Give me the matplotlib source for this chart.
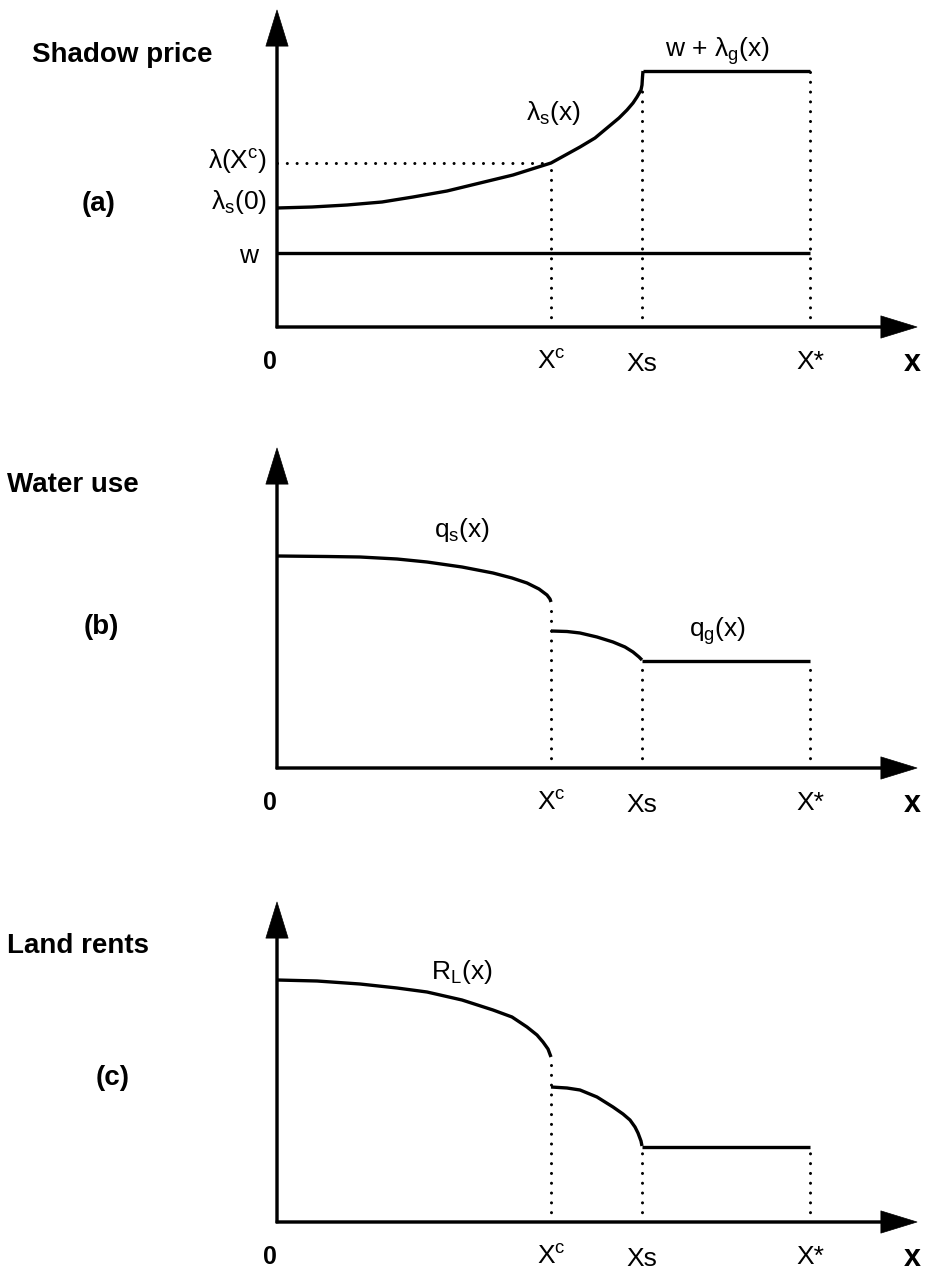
import matplotlib
matplotlib.use("Agg")
import matplotlib.pyplot as plt

plt.rcParams['font.family'] = ['Liberation Sans', 'DejaVu Sans']
plt.rcParams['mathtext.fontset'] = 'custom'
plt.rcParams['mathtext.rm'] = 'Liberation Sans'
plt.rcParams['mathtext.it'] = 'Liberation Sans'

# distances along x (schematic units)
Xc, Xs, Xstar = 2.74, 3.65, 5.33
x_end = 6.40

# (a) shadow price
w_level = 0.74
x_lam = [0.00, 0.35, 0.70, 1.05, 1.36, 1.70, 2.03, 2.36, 2.74, 3.03, 3.18, 3.30,
         3.42, 3.50, 3.56, 3.60, 3.64, 3.65, 3.655, 3.66]
lam_s = [1.19, 1.20, 1.22, 1.25, 1.30, 1.36, 1.44, 1.52, 1.64, 1.80, 1.89, 1.99,
         2.09, 2.17, 2.24, 2.30, 2.37, 2.42, 2.50, 2.56]
lam_c = 1.64
lam_xs = 2.37
lam_g_top = 2.56
top_a = 3.17

# (b) water use
x_qs1 = [0.00, 0.50, 0.83, 1.20, 1.50, 1.85, 2.16, 2.35, 2.50, 2.62, 2.70, 2.73, 2.74]
qs1 = [2.12, 2.115, 2.11, 2.09, 2.06, 2.01, 1.95, 1.90, 1.85, 1.79, 1.73, 1.69, 1.66]
x_qs2 = [2.74, 2.90, 3.03, 3.20, 3.36, 3.48, 3.56, 3.62, 3.65]
qs2 = [1.37, 1.365, 1.35, 1.31, 1.26, 1.21, 1.16, 1.11, 1.08]
qg_level = 1.07
top_b = 3.20

# (c) land rents
x_r1 = [0.00, 0.40, 0.83, 1.20, 1.50, 1.85, 2.16, 2.35, 2.50, 2.60, 2.66, 2.71, 2.74]
r1 = [2.42, 2.41, 2.38, 2.34, 2.30, 2.22, 2.12, 2.05, 1.95, 1.87, 1.80, 1.73, 1.65]
x_r2 = [2.74, 2.90, 3.03, 3.20, 3.36, 3.46, 3.53, 3.58, 3.61, 3.64, 3.65]
r2 = [1.35, 1.34, 1.32, 1.25, 1.15, 1.08, 1.02, 0.95, 0.89, 0.81, 0.76]
rg_level = 0.75
top_c = 3.20

W, H = 941, 1275
LW = 2.4
LINE = dict(color='k', lw=LW, solid_joinstyle='round', solid_capstyle='butt')
DOT = dict(color='k', lw=2.2, linestyle=(0, (0.01, 3.2)), dash_capstyle='round')
REG = 19
BOLD = 20

fig = plt.figure(figsize=(W / 100, H / 100), dpi=100)


def make_axes(bottom_px, top_px):
    ax = fig.add_axes([277 / W, 1 - bottom_px / H, (917 - 277) / W, (bottom_px - top_px) / H])
    ax.axis('off')
    return ax


def draw_axes(ax, ytop):
    ax.set_xlim(0, x_end)
    ax.set_ylim(0, ytop)
    arrow = dict(facecolor='k', edgecolor='k', width=1.8, headwidth=16,
                 headlength=26, shrink=0, lw=0.5)
    ax.annotate('', xy=(x_end, 0), xytext=(-0.01, 0), arrowprops=arrow, annotation_clip=False)
    ax.annotate('', xy=(0, ytop), xytext=(0, -0.01), arrowprops=arrow, annotation_clip=False)
    ax.text(-0.07, -0.35, '0', fontsize=18, fontweight='bold', ha='center', va='center')
    ax.text(Xc, -0.35, 'X$^{\\mathregular{c}}$', fontsize=REG, ha='center', va='center')
    ax.text(Xs, -0.37, 'Xs', fontsize=REG, ha='center', va='center')
    ax.text(Xstar, -0.35, 'X*', fontsize=REG, ha='center', va='center')
    ax.text(6.35, -0.36, 'x', fontsize=22, fontweight='bold', ha='center', va='center')


def ftext(px, py, s, **kw):
    fig.text(px / W, 1 - py / H, s, **kw)


# ---- panel (a)
ax = make_axes(327, 10)
draw_axes(ax, top_a)
ax.plot([0, Xstar], [w_level, w_level], **LINE)
ax.plot(x_lam, lam_s, **LINE)
ax.plot([x_lam[-1], Xstar], [lam_g_top, lam_g_top], **LINE)
ax.plot([0, Xc], [lam_c, lam_c], **DOT)
ax.plot([Xc, Xc], [0, lam_c], **DOT)
ax.plot([Xs, Xs], [0, lam_xs], **DOT)
ax.plot([Xstar, Xstar], [0, lam_g_top], **DOT)
ax.text(2.76, 2.14, 'λ$_{\\mathregular{s}}$(x)', fontsize=REG, ha='center', va='center')
ax.text(4.40, 2.76, 'w + λ$_{\\mathregular{g}}$(x)', fontsize=REG, ha='center', va='center')
ax.text(-0.10, 1.65, 'λ(X$^{\\mathregular{c}}$)', fontsize=REG, ha='right', va='center')
ax.text(-0.10, 1.25, 'λ$_{\\mathregular{s}}$(0)', fontsize=REG, ha='right', va='center')
ax.text(-0.19, 0.71, 'w', fontsize=REG, ha='right', va='center')
ftext(32, 55, 'Shadow price', fontsize=BOLD, fontweight='bold', ha='left', va='center')
ftext(99, 204, '(a)', fontsize=BOLD, fontweight='bold', ha='center', va='center')

# ---- panel (b)
ax = make_axes(768, 448)
draw_axes(ax, top_b)
ax.plot(x_qs1, qs1, **LINE)
ax.plot(x_qs2, qs2, **LINE)
ax.plot([x_qs2[-1], Xstar], [qg_level, qg_level], **LINE)
ax.plot([Xc, Xc], [0, qs1[-1]], **DOT)
ax.plot([Xs, Xs], [0, qg_level], **DOT)
ax.plot([Xstar, Xstar], [0, qg_level], **DOT)
ax.text(1.85, 2.38, 'q$_{\\mathregular{s}}$(x)', fontsize=REG, ha='center', va='center')
ax.text(4.41, 1.37, 'q$_{\\mathregular{g}}$(x)', fontsize=REG, ha='center', va='center')
ftext(7, 485, 'Water use', fontsize=BOLD, fontweight='bold', ha='left', va='center')
ftext(101, 627, '(b)', fontsize=BOLD, fontweight='bold', ha='center', va='center')

# ---- panel (c)
ax = make_axes(1222, 902)
draw_axes(ax, top_c)
ax.plot(x_r1, r1, **LINE)
ax.plot(x_r2, r2, **LINE)
ax.plot([x_r2[-1], Xstar], [rg_level, rg_level], **LINE)
ax.plot([Xc, Xc], [0, r1[-1]], **DOT)
ax.plot([Xs, Xs], [0, rg_level], **DOT)
ax.plot([Xstar, Xstar], [0, rg_level], **DOT)
ax.text(1.85, 2.50, 'R$_{\\mathregular{L}}$(x)', fontsize=REG, ha='center', va='center')
ftext(7, 946, 'Land rents', fontsize=BOLD, fontweight='bold', ha='left', va='center')
ftext(113, 1078, '(c)', fontsize=BOLD, fontweight='bold', ha='center', va='center')

fig.savefig('out.png', dpi=100, facecolor='white')
